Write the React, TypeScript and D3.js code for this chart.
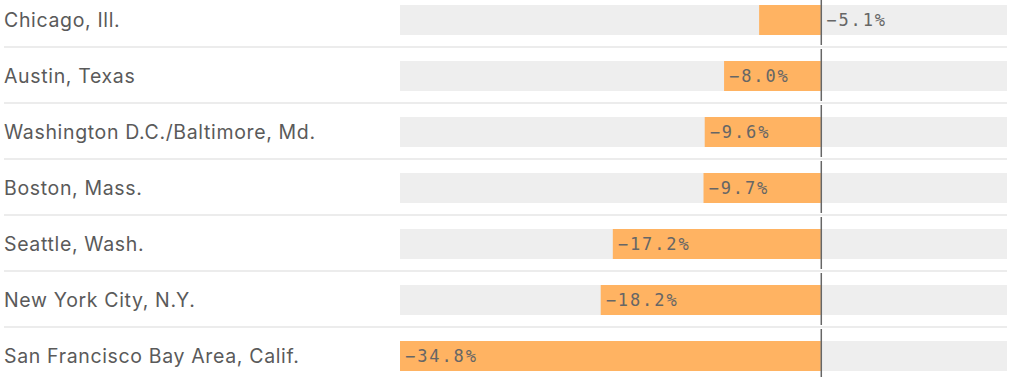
import React from "react";
import * as d3 from "d3";

const cities = [
  "Chicago, Ill.",
  "Austin, Texas",
  "Washington D.C./Baltimore, Md.",
  "Boston, Mass.",
  "Seattle, Wash.",
  "New York City, N.Y.",
  "San Francisco Bay Area, Calif.",
];
const changes = [-5.1, -8.0, -9.6, -9.7, -17.2, -18.2, -34.8];

const W = 1010;
const H = 377;

export default function App() {
  const x = d3.scaleLinear().domain([-34.8, 15.4]).range([400, 1007]);
  const y = d3
    .scaleBand<string>()
    .domain(cities)
    .range([5, 371])
    .paddingInner(26 / 56)
    .paddingOuter(0);
  const step = y.step();
  const bw = y.bandwidth();
  const x0 = x(0) + 0.5;
  return (
    <svg
      width={W}
      height={H}
      style={{ position: "absolute", left: 0, top: 0, background: "#fff" }}
    >
      {cities.map((c, i) => {
        const yt = y(c)!;
        const v = changes[i];
        const bx = x(Math.min(0, v));
        const bwid = Math.abs(x(v) - x(0));
        const inside = bwid > 70;
        const sepY = yt + bw + (step - bw) / 2 - 1;
        return (
          <g key={c}>
            {i < cities.length - 1 && (
              <line x1={4} x2={1007} y1={sepY} y2={sepY} stroke="#e6e6e6" strokeWidth={1.5} />
            )}
            <rect x={x.range()[0]} y={yt} width={x.range()[1] - x.range()[0]} height={bw} fill="#eeeeee" />
            <rect x={bx} y={yt} width={bwid} height={bw} fill="#ffb362" />
            <text
              x={4}
              y={yt + bw / 2}
              dy="0.36em"
              fontFamily="Inter, 'Noto Sans', sans-serif"
              fontSize={19.5}
              letterSpacing={0.65}
              fill="#5a5a5a"
            >
              {c}
            </text>
            <text
              x={inside ? bx + 5 : x0 + 5}
              y={yt + bw / 2}
              dy="0.36em"
              fontFamily="'DejaVu Sans Mono', 'Liberation Mono', monospace"
              fontSize={17}
              letterSpacing={1.9}
              fill="#666"
            >
              {"\u2212" + Math.abs(v).toFixed(1) + "%"}
            </text>
            <line
              x1={x0}
              x2={x0}
              y1={i === 0 ? 0 : yt - (step - bw) / 2 + 1}
              y2={i === cities.length - 1 ? H : sepY - 2}
              stroke="#666"
              strokeWidth={1.5}
            />
          </g>
        );
      })}
    </svg>
  );
}
